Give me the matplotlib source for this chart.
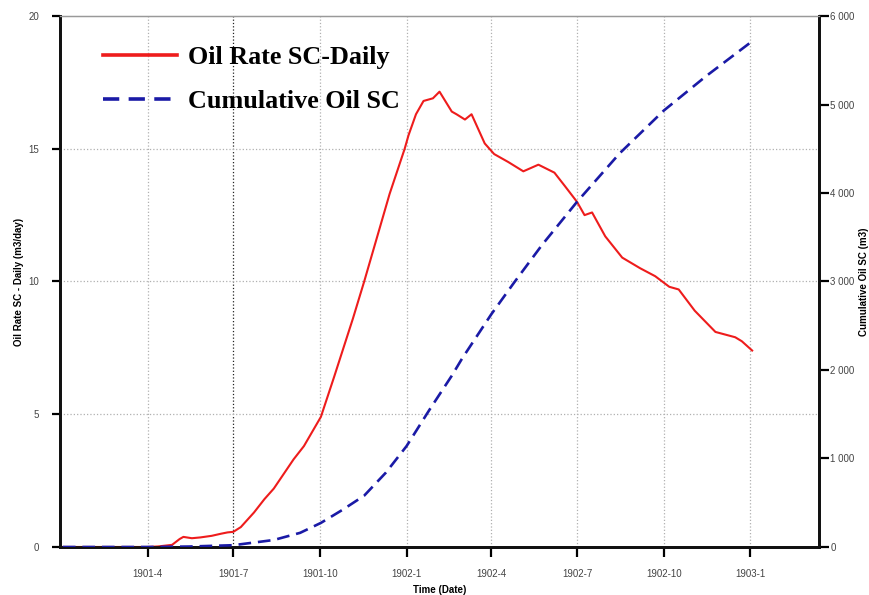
import numpy as np
import pandas as pd
import matplotlib
matplotlib.use('Agg')
import matplotlib.pyplot as plt
from matplotlib.lines import Line2D
from matplotlib.ticker import FuncFormatter

# daily oil rate (m3/day)
rate_dates = ['1901-01-01', '1901-04-01', '1901-04-12', '1901-04-27', '1901-05-05',
              '1901-05-09', '1901-05-18', '1901-05-27', '1901-06-08', '1901-06-18',
              '1901-06-25', '1901-07-01', '1901-07-09', '1901-07-23', '1901-08-03',
              '1901-08-13', '1901-09-03', '1901-09-14', '1901-10-02', '1901-10-16',
              '1901-11-05', '1901-11-17', '1901-12-05', '1901-12-14', '1901-12-30',
              '1902-01-03', '1902-01-11', '1902-01-19', '1902-01-29', '1902-02-05',
              '1902-02-18', '1902-02-23', '1902-03-04', '1902-03-11', '1902-03-25',
              '1902-04-04', '1902-04-19', '1902-05-05', '1902-05-21', '1902-06-07',
              '1902-06-18', '1902-07-01', '1902-07-09', '1902-07-17', '1902-07-31',
              '1902-08-18', '1902-09-06', '1902-09-22', '1902-10-07', '1902-10-17',
              '1902-11-03', '1902-11-25', '1902-12-16', '1902-12-23', '1903-01-03']
rate_values = [0, 0, 0.02, 0.08, 0.3,
               0.38, 0.33, 0.36, 0.42, 0.5,
               0.55, 0.57, 0.75, 1.3, 1.8,
               2.2, 3.3, 3.8, 4.9, 6.4,
               8.6, 10.0, 12.2, 13.3, 15.0,
               15.5, 16.3, 16.8, 16.9, 17.15,
               16.4, 16.3, 16.1, 16.3, 15.2,
               14.8, 14.5, 14.15, 14.4, 14.1,
               13.6, 13.0, 12.5, 12.6, 11.7,
               10.9, 10.5, 10.2, 9.8, 9.7,
               8.9, 8.1, 7.9, 7.75, 7.4]

# cumulative oil (m3)
cum_dates = ['1901-01-01', '1901-04-01', '1901-05-15', '1901-07-01', '1901-08-13',
             '1901-09-10', '1901-10-02', '1901-10-25', '1901-11-17', '1901-12-10',
             '1902-01-01', '1902-01-25', '1902-02-18', '1902-03-01', '1902-04-01',
             '1902-04-25', '1902-05-25', '1902-07-01', '1902-08-15', '1902-10-01',
             '1902-11-15', '1903-01-03']
cum_values = [0, 0, 5, 20, 79,
              160, 272, 420, 580, 840,
              1140, 1545, 1935, 2130, 2630,
              2985, 3415, 3900, 4445, 4930,
              5320, 5715]

tick_dates = ['1901-04-01', '1901-07-01', '1901-10-01', '1902-01-01',
              '1902-04-01', '1902-07-01', '1902-10-01', '1903-01-01']

rate_x = pd.to_datetime(rate_dates)
cum_x = pd.to_datetime(cum_dates)
ticks = pd.to_datetime(tick_dates)

fig = plt.figure(figsize=(8.7, 5.95), dpi=100)
ax = fig.add_axes([0.069, 0.0807, 0.8724, 0.8924])
ax2 = ax.twinx()

# grid
for t in ticks:
    c = '#222222' if t == pd.Timestamp('1901-07-01') else '#b0b0b0'
    ax.axvline(t, color=c, ls=':', lw=0.9, zorder=0)
for v in [5, 10, 15]:
    ax.axhline(v, color='#b0b0b0', ls=':', lw=0.9, zorder=0)

ax.plot(rate_x, rate_values, color='#ee1c1c', lw=1.5, zorder=3)
ax2.plot(cum_x, cum_values, color='#1a1aa6', lw=1.9, dashes=(4.8, 2.6), zorder=3)

ax.set_xlim(pd.Timestamp('1900-12-29'), pd.Timestamp('1903-03-15'))
ax.set_ylim(0, 20)
ax2.set_ylim(0, 6000)

ax.set_xticks(ticks)
ax.set_xticklabels([f'{t.year}-{t.month}' for t in ticks])
ax.set_yticks([0, 5, 10, 15, 20])
ax2.set_yticks(np.arange(0, 6001, 1000))
ax2.yaxis.set_major_formatter(FuncFormatter(lambda v, p: f'{int(v):,}'.replace(',', ' ')))

for a in (ax, ax2):
    a.spines['top'].set_color('#999999')
    a.spines['top'].set_linewidth(0.9)
    for s in ('left', 'right', 'bottom'):
        a.spines[s].set_linewidth(2)
        a.spines[s].set_color('#111111')

ax.tick_params(axis='y', direction='out', length=6, width=1.6, pad=9,
               labelsize=7, labelcolor='#444444')
ax.tick_params(axis='x', direction='out', length=7, width=1.6, pad=9,
               labelsize=7, labelcolor='#444444')
ax2.tick_params(axis='y', direction='out', length=7, width=1.6, pad=1,
                labelsize=7, labelcolor='#444444')

lab = dict(family='Liberation Sans', weight='bold', size=7)
ax.set_xlabel('Time (Date)', fontdict=lab, labelpad=4)
ax.set_ylabel('Oil Rate SC - Daily (m3/day)', fontdict=lab, labelpad=3)
ax2.set_ylabel('Cumulative Oil SC (m3)', fontdict=lab, labelpad=3)
for t in ax.get_xticklabels() + ax.get_yticklabels() + ax2.get_yticklabels():
    t.set_family('Liberation Sans')

handles = [Line2D([], [], color='#ee1c1c', lw=2.6),
           Line2D([], [], color='#1a1aa6', lw=2.6, dashes=(4.5, 2.6))]
fig.legend(handles, ['Oil Rate SC-Daily', 'Cumulative Oil SC'],
           loc='upper left', bbox_to_anchor=(0.103, 0.945), frameon=False,
           prop=dict(family='Liberation Serif', weight='bold', size=18.8),
           handlelength=2.85, handletextpad=0.42, labelspacing=0.8, borderpad=0)

fig.savefig('out.png', dpi=100)
